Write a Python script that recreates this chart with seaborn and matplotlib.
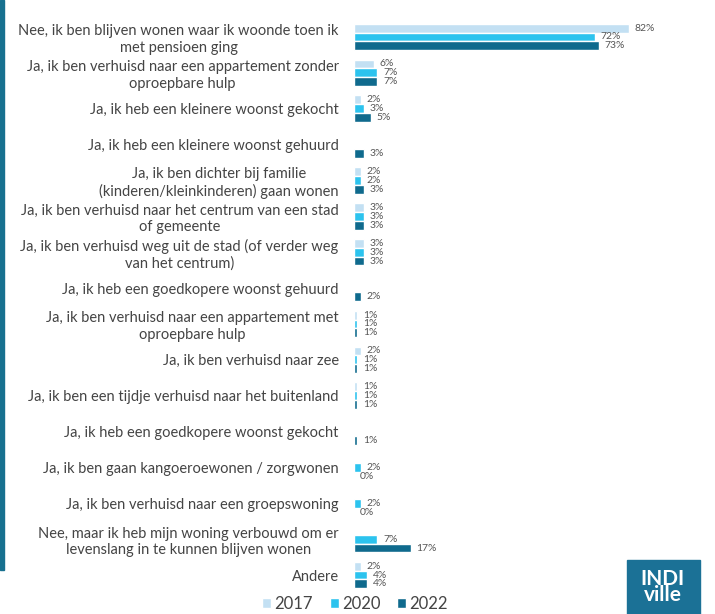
import pandas as pd
import matplotlib.pyplot as plt
import seaborn as sns
from matplotlib.patches import Rectangle

categories = [
    "Nee, ik ben blijven wonen waar ik woonde toen ik\nmet pensioen ging",
    "Ja, ik ben verhuisd naar een appartement zonder\noproepbare hulp",
    "Ja, ik heb een kleinere woonst gekocht",
    "Ja, ik heb een kleinere woonst gehuurd",
    "Ja, ik ben dichter bij familie\n(kinderen/kleinkinderen) gaan wonen",
    "Ja, ik ben verhuisd naar het centrum van een stad\nof gemeente",
    "Ja, ik ben verhuisd weg uit de stad (of verder weg\nvan het centrum)",
    "Ja, ik heb een goedkopere woonst gehuurd",
    "Ja, ik ben verhuisd naar een appartement met\noproepbare hulp",
    "Ja, ik ben verhuisd naar zee",
    "Ja, ik ben een tijdje verhuisd naar het buitenland",
    "Ja, ik heb een goedkopere woonst gekocht",
    "Ja, ik ben gaan kangoeroewonen / zorgwonen",
    "Ja, ik ben verhuisd naar een groepswoning",
    "Nee, maar ik heb mijn woning verbouwd om er\nlevenslang in te kunnen blijven wonen",
    "Andere",
]
years = ["2017", "2020", "2022"]
nan = float("nan")
pct_2017 = [82, 6, 2, nan, 2, 3, 3, nan, 1, 2, 1, nan, nan, nan, nan, 2]
pct_2020 = [72, 7, 3, nan, 2, 3, 3, nan, 1, 1, 1, nan, 2, 2, 7, 4]
pct_2022 = [73, 7, 5, 3, 3, 3, 3, 2, 1, 1, 1, 1, 0, 0, 17, 4]
colors = ["#c3e0f3", "#2cc3ee", "#0f6a8d"]

rows = []
for year, vals in zip(years, [pct_2017, pct_2020, pct_2022]):
    for cat, v in zip(categories, vals):
        rows.append({"categorie": cat, "jaar": year, "pct": v})
df = pd.DataFrame(rows)

sns.set_style("white")
plt.rcParams["font.family"] = ["Lato", "DejaVu Sans"]

fig = plt.figure(figsize=(7.15, 6.14), dpi=100)
ax = fig.add_axes([354 / 715, 1 - 593 / 614, 335 / 715, 574 / 614])

sns.barplot(data=df, y="categorie", x="pct", hue="jaar", order=categories,
            hue_order=years, palette=colors, orient="h", width=0.74,
            saturation=1, ax=ax, errorbar=None, legend=True)

# value labels (stacked tightly, like the original)
for cont in ax.containers:
    ax.bar_label(cont, fmt="{:.0f}%", padding=4, fontsize=7.5, color="#555555")

ax.set_xlim(0, 100)
ax.set_ylim(len(categories) - 0.5, -0.5)
ax.set_xlabel("")
ax.set_ylabel("")
ax.set_xticks([])
ax.tick_params(axis="y", length=0, pad=11, labelsize=10.5, labelcolor="#444444")
for lbl in ax.get_yticklabels():
    lbl.set_multialignment("center")
sns.despine(ax=ax, left=True, bottom=True)

handles, labels = ax.get_legend_handles_labels()
ax.legend_.remove()
fig.legend(handles, labels, loc="center", bbox_to_anchor=(355 / 715, 1 - 604 / 614),
           ncol=3, frameon=False, fontsize=12, labelcolor="#444444",
           handlelength=0.55, handleheight=0.55, handletextpad=0.2, columnspacing=1.0)

# left accent stripe
fig.patches.append(Rectangle((0, 1 - 570 / 614), 4 / 715, 570 / 614,
                             transform=fig.transFigure, color="#17708f"))
# logo
fig.patches.append(Rectangle((627 / 715, 0), 73 / 715, 54 / 614,
                             transform=fig.transFigure, color="#1b7196"))
fig.text(663 / 715, 27 / 614, "INDI\nville", ha="center", va="center",
         color="white", fontsize=15, fontweight="bold", linespacing=0.8)

fig.savefig("out.png", dpi=100)
